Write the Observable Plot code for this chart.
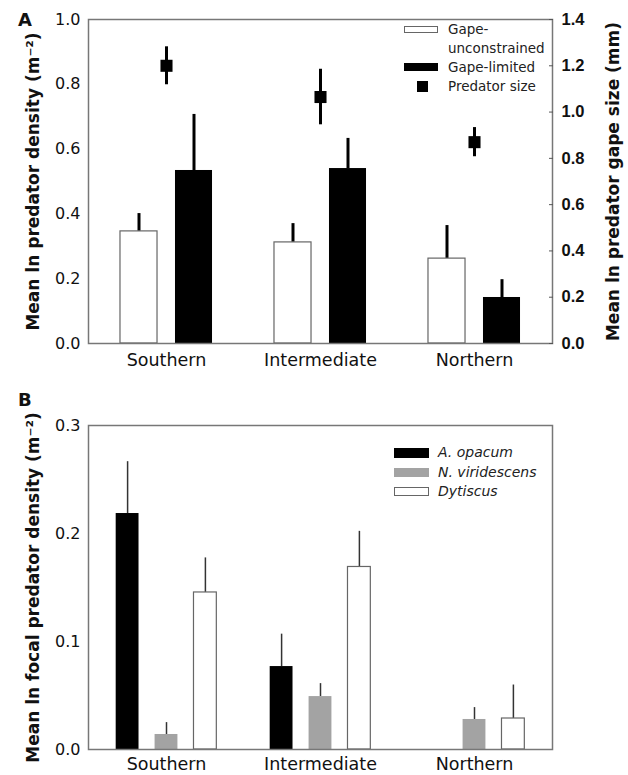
<!DOCTYPE html>
<html>
<head>
<meta charset="utf-8">
<script src="https://cdn.jsdelivr.net/npm/d3@7"></script>
<script src="https://cdn.jsdelivr.net/npm/@observablehq/plot@0.6"></script>
<style>
  html, body { margin: 0; padding: 0; background: #fff; }
  #wrap { position: relative; width: 628px; height: 775px; font-family: "DejaVu Sans", sans-serif; color: #111; }
  #wrap svg { display: block; }
  .panel-letter { position: absolute; font-weight: bold; font-size: 18px; line-height: 18px; }
  .legend { position: absolute; font-size: 13.5px; line-height: 19px; color: #222; }
  .legend .row { position: absolute; left: 0; white-space: nowrap; }
  .legend .sw { position: absolute; box-sizing: border-box; }
  .legend .lab { position: absolute; }
</style>
</head>
<body>
<div id="wrap"></div>
<script>
// ---------- Data ----------
const regions = ["Southern", "Intermediate", "Northern"];

// Panel A
const gapeUnconstrained   = [0.346, 0.312, 0.262];
const gapeUnconstrainedSE = [0.055, 0.058, 0.102];
const gapeLimited         = [0.534, 0.540, 0.142];
const gapeLimitedSE       = [0.173, 0.093, 0.055];
const predatorSize        = [1.200, 1.065, 0.870];   // right axis (mm)
const predatorSizeSE      = [0.082, 0.120, 0.063];
const ticksLeftA  = [0, 0.2, 0.4, 0.6, 0.8, 1.0];
const ticksRightA = [0, 0.2, 0.4, 0.6, 0.8, 1.0, 1.2, 1.4];
const rightMaxA = 1.4;
const legendA = ["Gape-\nunconstrained", "Gape-limited", "Predator size"];
const titleLeftA  = "Mean ln predator density (m⁻²)";
const titleRightA = "Mean ln predator gape size (mm)";

// Panel B
const aOpacum      = [0.2185, 0.0768, 0];
const aOpacumSE    = [0.048, 0.030, 0];
const nViridescens   = [0.0139, 0.049, 0.0278];
const nViridescensSE = [0.011, 0.012, 0.011];
const dytiscus     = [0.1454, 0.169, 0.0287];
const dytiscusSE   = [0.032, 0.033, 0.031];
const ticksB = [0, 0.1, 0.2, 0.3];
const legendB = ["A. opacum", "N. viridescens", "Dytiscus"];
const titleB = "Mean ln focal predator density (m⁻²)";

// ---------- Layout ----------
const W = 628;
const ML = 88, MR = 76;
const bandW = (W - ML - MR) / regions.length;
const fmt1 = d3.format(".1f");
const frameColor = "#777";
const greyFill = "#a3a3a3";

const rowsA = regions.map((r, i) => ({
  region: r,
  unc: gapeUnconstrained[i], uncSE: gapeUnconstrainedSE[i],
  lim: gapeLimited[i], limSE: gapeLimitedSE[i],
  size: predatorSize[i], sizeSE: predatorSizeSE[i]
}));

const barWA = 37.7, offA = 27.5;
const insA = (bandW - barWA) / 2;

const plotA = Plot.plot({
  width: W, height: 378,
  marginTop: 19, marginBottom: 35, marginLeft: ML, marginRight: MR,
  style: { fontFamily: "DejaVu Sans", fontSize: "16px", color: "#111", background: "white" },
  x: { type: "band", domain: regions, padding: 0, axis: null },
  y: { domain: [0, 1], axis: null },
  marks: [
    // gape-unconstrained
    Plot.ruleX(rowsA, { x: "region", y1: "unc", y2: d => d.unc + d.uncSE, stroke: "#000", strokeWidth: 3, dx: -offA }),
    Plot.barY(rowsA, { x: "region", y: "unc", fill: "white", stroke: "#666", strokeWidth: 1.2, insetLeft: insA, insetRight: insA, dx: -offA }),
    // gape-limited
    Plot.ruleX(rowsA, { x: "region", y1: "lim", y2: d => d.lim + d.limSE, stroke: "#000", strokeWidth: 3, dx: offA }),
    Plot.barY(rowsA, { x: "region", y: "lim", fill: "#000", insetLeft: insA, insetRight: insA, dx: offA }),
    // predator size (right axis)
    Plot.ruleX(rowsA, { x: "region", y1: d => (d.size - d.sizeSE) / rightMaxA, y2: d => (d.size + d.sizeSE) / rightMaxA, stroke: "#000", strokeWidth: 3 }),
    Plot.dot(rowsA, { x: "region", y: d => d.size / rightMaxA, symbol: "square", r: 6.8, fill: "#000", stroke: null }),
    Plot.frame({ stroke: frameColor, strokeWidth: 1.5 }),
    Plot.axisX({ tickSize: 0, tickPadding: 10, fontSize: 17.5, label: null }),
    Plot.axisY(ticksLeftA, { anchor: "left", tickSize: 0, tickPadding: 8, tickFormat: fmt1, label: null, fontSize: 16 }),
    Plot.axisY(ticksRightA.map(t => t / rightMaxA), { anchor: "right", tickSize: 4, tickPadding: 9, dx: -4, tickFormat: d => fmt1(d * rightMaxA), label: null, fontWeight: "bold", fontSize: 16.5, fontFamily: "Liberation Sans", stroke: "#555" }),
    Plot.text([titleLeftA], { frameAnchor: "left", rotate: -90, dx: -55, fontWeight: "bold", fontSize: 17, textAnchor: "middle" }),
    Plot.text([titleRightA], { frameAnchor: "right", rotate: -90, dx: 61, fontWeight: "bold", fontSize: 17, textAnchor: "middle" })
  ]
});

const rowsB = regions.map((r, i) => ({
  region: r,
  op: aOpacum[i], opSE: aOpacumSE[i],
  vi: nViridescens[i], viSE: nViridescensSE[i],
  dy: dytiscus[i], dySE: dytiscusSE[i]
}));
const barWB = 23.5, offB = 38.9;
const insB = (bandW - barWB) / 2;
const errB = { stroke: "#333", strokeWidth: 1.5 };

const plotB = Plot.plot({
  width: W, height: 397,
  marginTop: 47, marginBottom: 26, marginLeft: ML, marginRight: MR,
  style: { fontFamily: "DejaVu Sans", fontSize: "16px", color: "#111", background: "white" },
  x: { type: "band", domain: regions, padding: 0, axis: null },
  y: { domain: [0, 0.3], axis: null },
  marks: [
    Plot.ruleX(rowsB.filter(d => d.op > 0), { x: "region", y1: "op", y2: d => d.op + d.opSE, ...errB, dx: -offB }),
    Plot.barY(rowsB, { x: "region", y: "op", fill: "#000", insetLeft: insB, insetRight: insB, dx: -offB }),
    Plot.ruleX(rowsB, { x: "region", y1: "vi", y2: d => d.vi + d.viSE, ...errB }),
    Plot.barY(rowsB, { x: "region", y: "vi", fill: greyFill, insetLeft: insB, insetRight: insB }),
    Plot.ruleX(rowsB, { x: "region", y1: "dy", y2: d => d.dy + d.dySE, ...errB, dx: offB }),
    Plot.barY(rowsB, { x: "region", y: "dy", fill: "white", stroke: "#666", strokeWidth: 1.2, insetLeft: insB, insetRight: insB, dx: offB }),
    Plot.frame({ stroke: frameColor, strokeWidth: 1.5 }),
    Plot.axisX({ tickSize: 0, tickPadding: 8, fontSize: 17.5, label: null }),
    Plot.axisY(ticksB, { anchor: "left", tickSize: 0, tickPadding: 8, tickFormat: fmt1, label: null, fontSize: 16 }),
    Plot.text([titleB], { frameAnchor: "left", rotate: -90, dx: -55, fontWeight: "bold", fontSize: 17, textAnchor: "middle" })
  ]
});

const wrap = document.getElementById("wrap");
wrap.appendChild(plotA);
wrap.appendChild(plotB);

function addLetter(txt, left, top) {
  const d = document.createElement("div");
  d.className = "panel-letter";
  d.textContent = txt;
  d.style.left = left + "px"; d.style.top = top + "px";
  wrap.appendChild(d);
}
addLetter("A", 18, 11);
addLetter("B", 18, 391);

// Legend A
(function () {
  const lg = document.createElement("div");
  lg.className = "legend";
  lg.style.left = "404px"; lg.style.top = "0px";
  const specs = [
    { top: 19.5, sw: { left: 0, top: 6, w: 34, h: 7, bg: "#fff", border: "1px solid #666" } },
    { top: 57.5, sw: { left: 0, top: 5.5, w: 34, h: 8, bg: "#000", border: "none" } },
    { top: 76.5, sw: { left: 13, top: 4, w: 11, h: 11, bg: "#000", border: "none" } }
  ];
  legendA.forEach((t, i) => {
    const s = specs[i];
    const row = document.createElement("div");
    row.className = "row"; row.style.top = s.top + "px";
    const sw = document.createElement("div");
    sw.className = "sw";
    Object.assign(sw.style, { left: s.sw.left + "px", top: s.sw.top + "px", width: s.sw.w + "px", height: s.sw.h + "px", background: s.sw.bg, border: s.sw.border });
    const lab = document.createElement("div");
    lab.className = "lab"; lab.style.left = "44px"; lab.style.top = "0px";
    lab.style.whiteSpace = "pre";
    lab.textContent = t;
    row.appendChild(sw); row.appendChild(lab);
    lg.appendChild(row);
  });
  wrap.appendChild(lg);
})();

// Legend B
(function () {
  const lg = document.createElement("div");
  lg.className = "legend";
  lg.style.left = "394px"; lg.style.top = "0px";
  lg.style.fontSize = "14px"; lg.style.fontStyle = "italic";
  const fills = [{ bg: "#000", border: "none" }, { bg: greyFill, border: "none" }, { bg: "#fff", border: "1px solid #666" }];
  const centers = [452.5, 472, 491];
  legendB.forEach((t, i) => {
    const row = document.createElement("div");
    row.className = "row"; row.style.top = (centers[i] - 9.5) + "px";
    const sw = document.createElement("div");
    sw.className = "sw";
    Object.assign(sw.style, { left: "0px", top: "5px", width: "35px", height: "9.5px", background: fills[i].bg, border: fills[i].border });
    const lab = document.createElement("div");
    lab.className = "lab"; lab.style.left = "44px"; lab.style.top = "0px";
    lab.textContent = t;
    row.appendChild(sw); row.appendChild(lab);
    lg.appendChild(row);
  });
  wrap.appendChild(lg);
})();
</script>
</body>
</html>
